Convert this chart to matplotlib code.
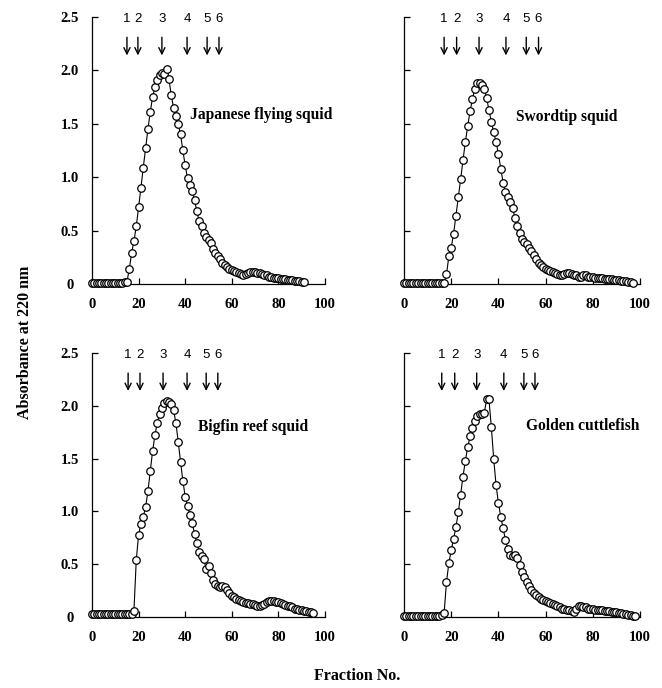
import matplotlib
matplotlib.use("Agg")
import matplotlib.pyplot as plt
import numpy as np

# ---------------- data ----------------
species = ["Japanese flying squid", "Swordtip squid", "Bigfin reef squid", "Golden cuttlefish"]

absorb_japanese = ([0.01] * 14 + [0.02, 0.02] +
    [0.14, 0.29, 0.40, 0.54, 0.72, 0.90, 1.09, 1.27, 1.45, 1.61, 1.75, 1.84, 1.91, 1.96, 1.98, 1.97,
     2.01, 1.92, 1.77, 1.65, 1.57, 1.50, 1.40, 1.25, 1.11, 0.99, 0.93, 0.87, 0.79, 0.68, 0.59, 0.54,
     0.48, 0.44, 0.41, 0.38, 0.33, 0.29, 0.26, 0.23, 0.20, 0.18, 0.16, 0.14, 0.13, 0.12, 0.11, 0.10,
     0.09, 0.08, 0.09, 0.10, 0.11, 0.11, 0.11, 0.10, 0.10, 0.09, 0.08, 0.08, 0.07, 0.07, 0.06, 0.06,
     0.06, 0.05, 0.05, 0.05, 0.04, 0.04, 0.04, 0.03, 0.03, 0.03, 0.02, 0.02])

absorb_swordtip = ([0.01] * 18 +
    [0.09, 0.26, 0.34, 0.47, 0.64, 0.81, 0.98, 1.16, 1.33, 1.48, 1.62, 1.73, 1.83, 1.88, 1.88, 1.86,
     1.83, 1.74, 1.63, 1.52, 1.42, 1.33, 1.22, 1.08, 0.95, 0.86, 0.81, 0.77, 0.71, 0.62, 0.54, 0.48,
     0.42, 0.39, 0.37, 0.34, 0.31, 0.27, 0.23, 0.20, 0.18, 0.16, 0.14, 0.13, 0.12, 0.11, 0.10, 0.09,
     0.08, 0.08, 0.09, 0.10, 0.10, 0.09, 0.08, 0.08, 0.07, 0.07, 0.08, 0.08, 0.07, 0.07, 0.07, 0.06,
     0.06, 0.06, 0.06, 0.05, 0.05, 0.05, 0.05, 0.04, 0.04, 0.04, 0.03, 0.03, 0.03, 0.02, 0.02, 0.01])

absorb_bigfin = ([0.03] * 18 +
    [0.06, 0.54, 0.78, 0.88, 0.95, 1.04, 1.19, 1.38, 1.57, 1.72, 1.84, 1.92, 1.98, 2.03, 2.05, 2.04,
     2.02, 1.96, 1.84, 1.66, 1.47, 1.29, 1.14, 1.05, 0.97, 0.89, 0.79, 0.70, 0.62, 0.58, 0.55, 0.45,
     0.48, 0.42, 0.35, 0.31, 0.29, 0.28, 0.29, 0.28, 0.26, 0.23, 0.20, 0.19, 0.17, 0.16, 0.15, 0.14,
     0.13, 0.13, 0.12, 0.12, 0.11, 0.10, 0.10, 0.11, 0.12, 0.14, 0.15, 0.15, 0.15, 0.14, 0.14, 0.13,
     0.12, 0.11, 0.10, 0.10, 0.09, 0.08, 0.08, 0.07, 0.07, 0.06, 0.06, 0.05, 0.05, 0.04])

absorb_golden = ([0.01] * 16 + [0.02] +
    [0.04, 0.33, 0.51, 0.63, 0.74, 0.85, 0.99, 1.16, 1.33, 1.48, 1.61, 1.71, 1.79, 1.86, 1.90, 1.92,
     1.92, 1.93, 2.06, 2.06, 1.80, 1.50, 1.25, 1.08, 0.95, 0.84, 0.73, 0.64, 0.59, 0.58, 0.59, 0.56,
     0.49, 0.43, 0.38, 0.33, 0.29, 0.26, 0.23, 0.21, 0.19, 0.17, 0.16, 0.15, 0.14, 0.13, 0.12, 0.11,
     0.10, 0.09, 0.08, 0.08, 0.07, 0.07, 0.06, 0.05, 0.08, 0.10, 0.10, 0.09, 0.09, 0.08, 0.08, 0.08,
     0.07, 0.07, 0.07, 0.07, 0.06, 0.06, 0.06, 0.05, 0.05, 0.05, 0.04, 0.04, 0.03, 0.03, 0.02, 0.02,
     0.01, 0.01])

series = [absorb_japanese, absorb_swordtip, absorb_bigfin, absorb_golden]

# marker (standard) positions, fraction numbers
marker_labels = ["1", "2", "3", "4", "5", "6"]
markers_japanese = [15, 19.7, 30, 40.8, 49.4, 54.5]
markers_swordtip = [17, 22.3, 31.8, 43.2, 51.8, 57]
markers_bigfin = [15.5, 20.6, 30.5, 40.8, 49, 54]
markers_golden = [16, 21.5, 30.8, 42.3, 50.8, 55.5]
marker_sets = [markers_japanese, markers_swordtip, markers_bigfin, markers_golden]

label_pos = [(42, 1.58), (47.5, 1.56), (45.5, 1.80), (51.5, 1.81)]

x_ticks = [0, 20, 40, 60, 80, 100]
y_ticks = [0, 0.5, 1.0, 1.5, 2.0, 2.5]
y_ticklabels = ["0", "0.5", "1.0", "1.5", "2.0", "2.5"]

# ---------------- figure ----------------
W, H = 662, 688
fig = plt.figure(figsize=(W / 100, H / 100), dpi=100)
serif = "Liberation Serif"

rects = [
    (92 / W, (H - 284) / H, (325 - 92) / W, (284 - 17) / H),
    (404 / W, (H - 284) / H, (640 - 404) / W, (284 - 17) / H),
    (92 / W, (H - 617) / H, (325 - 92) / W, (617 - 353) / H),
    (404 / W, (H - 617) / H, (640 - 404) / W, (617 - 353) / H),
]

for i, (rect, ys, name, mset, lp) in enumerate(zip(rects, series, species, marker_sets, label_pos)):
    ax = fig.add_axes(rect)
    xs = np.arange(len(ys))
    ax.plot(xs, ys, color="black", lw=0.8, marker="o", ms=5.4, mfc="white",
            mec="black", mew=0.9, clip_on=False, zorder=3)
    ax.set_xlim(0, 100)
    ax.set_ylim(0, 2.5)
    for s in ["top", "right"]:
        ax.spines[s].set_visible(False)
    for s in ["left", "bottom"]:
        ax.spines[s].set_linewidth(0.9)
    ax.set_xticks(x_ticks)
    ax.set_xticklabels([str(t) for t in x_ticks], fontfamily=serif,
                       fontweight="bold", fontsize=10.5)
    ax.set_yticks(y_ticks)
    if i % 2 == 0:
        ax.set_yticklabels(y_ticklabels, fontfamily=serif, fontweight="bold", fontsize=10.5)
        for lab in ax.get_yticklabels():
            lab.set_horizontalalignment("center")
    else:
        ax.set_yticklabels([])
    ax.tick_params(axis="both", direction="in", length=4, width=0.9)
    ax.tick_params(axis="x", pad=10)
    ax.tick_params(axis="y", pad=16)

    for lab, mx in zip(marker_labels, mset):
        ax.text(mx, 2.48, lab, ha="center", va="center", fontsize=9.5,
                fontfamily="Liberation Sans", clip_on=False)
        ax.annotate("", xy=(mx, 2.14), xytext=(mx, 2.31),
                    arrowprops=dict(arrowstyle="->,head_length=0.45,head_width=0.22",
                                    color="black", lw=1.0, shrinkA=0, shrinkB=0),
                    annotation_clip=False)

    ax.text(lp[0], lp[1], name, fontfamily=serif, fontweight="bold", fontsize=11.2,
            ha="left", va="center")

fig.text(25 / W, 1 - 342 / H, "Absorbance at 220 nm", rotation=90, ha="center",
         va="center", fontfamily=serif, fontweight="bold", fontsize=11.5)
fig.text(357 / W, 1 - 676 / H, "Fraction No.", ha="center", va="center",
         fontfamily=serif, fontweight="bold", fontsize=11.5)

fig.savefig("out.png", dpi=100)
